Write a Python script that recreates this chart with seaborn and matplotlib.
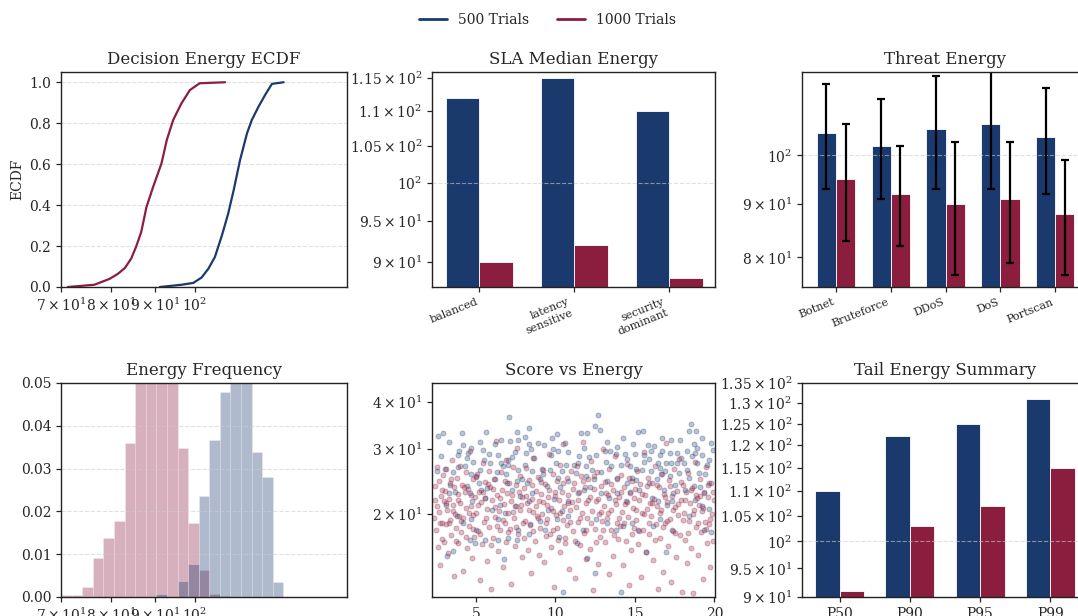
import numpy as np
import pandas as pd
import seaborn as sns
import matplotlib.pyplot as plt
from matplotlib.lines import Line2D

# colours
navy = '#1a3a6e'
crimson = '#8b1e3f'
groups = ['500 Trials', '1000 Trials']

# ECDF curves (energy value, cumulative share)
ecdf_500_x = [91.1, 96.5, 99.6, 101.8, 103.7, 105.5, 107.5, 109.3, 110.9, 112.8,
              114.9, 116.4, 118.5, 120.6, 122.8, 126.7]
ecdf_500_p = [0.0, 0.011, 0.02, 0.046, 0.09, 0.147, 0.253, 0.359, 0.473, 0.62,
              0.75, 0.816, 0.881, 0.938, 0.992, 1.0]
ecdf_1000_x = [71.3, 76.5, 79.7, 81.5, 83.0, 84.4, 85.5, 86.7, 87.9, 89.5, 91.5,
               92.8, 94.4, 96.5, 98.7, 101.3, 108.4]
ecdf_1000_p = [0.0, 0.011, 0.04, 0.065, 0.093, 0.139, 0.196, 0.27, 0.39, 0.49,
               0.604, 0.718, 0.816, 0.897, 0.962, 0.995, 1.0]

# histogram densities, 27 log-spaced bins between 70 and 150
hist_500 = [0, 0, 0, 0, 0, 0, 0, 0, 0, 0.0008, 0, 0.0037, 0.0078, 0.0236, 0.0366,
            0.048, 0.060, 0.062, 0.0338, 0.0281, 0.0034, 0, 0, 0, 0, 0, 0]
hist_1000 = [0.0004, 0.0004, 0.0023, 0.0091, 0.0138, 0.0178, 0.0359, 0.058, 0.068,
             0.070, 0.056, 0.0348, 0.0174, 0.0063, 0.0007, 0.0002, 0, 0, 0, 0, 0,
             0, 0, 0, 0, 0, 0]

# SLA medians
sla_names = ['balanced', 'latency\nsensitive', 'security\ndominant']
sla_500 = [112, 115, 110]
sla_1000 = [90, 92, 88]

# threat energy with spread
threat_names = ['Botnet', 'Bruteforce', 'DDoS', 'DoS', 'Portscan']
threat_500 = [105, 102, 106, 107, 104]
threat_500_err = [12, 11, 13, 14, 12]
threat_1000 = [95, 92, 90, 91, 88]
threat_1000_err = [12, 10, 13, 12, 11]

# tail percentiles
tail_names = ['P50', 'P90', 'P95', 'P99']
tail_500 = [110, 122, 125, 131]
tail_1000 = [91, 103, 107, 115]

# score vs energy points (x, y)
score_500 = [
    (7.09, 36.4), (2.62, 32.5), (2.93, 33.1), (3.33, 31.2), (5.61, 33.2), (6.21, 30.9),
    (6.59, 31.7), (7.14, 31.4), (7.57, 33.3), (8.33, 34.1), (7.68, 31.7), (8.89, 31.1),
    (9.77, 32.0), (10.09, 32.9), (9.31, 30.6), (4.19, 30.6), (4.67, 30.1), (5.27, 31.2),
    (3.91, 29.5), (3.87, 28.9), (4.44, 28.3), (4.83, 27.7), (5.52, 28.0), (5.42, 29.8),
    (6.42, 28.9), (6.59, 27.4), (7.05, 27.9), (7.47, 29.4), (8.31, 30.8), (8.14, 29.2),
    (8.45, 29.9), (9.88, 30.0), (10.19, 29.5), (10.02, 27.5), (10.82, 29.3), (10.67, 27.2),
    (2.57, 26.1), (3.04, 26.5), (3.56, 25.9), (4.29, 27.0), (4.71, 25.7), (5.23, 26.3),
    (5.90, 27.5), (6.70, 27.0), (7.05, 27.2), (7.68, 26.3), (8.10, 27.2), (8.52, 26.1),
    (9.14, 26.5), (9.67, 26.3), (10.40, 26.1), (10.78, 24.5), (4.60, 22.8), (4.46, 23.8),
    (5.17, 24.3), (5.69, 23.5), (6.21, 24.8), (6.95, 24.3), (7.26, 23.3), (7.60, 24.5),
    (8.20, 24.3), (8.52, 22.8), (9.04, 24.8), (9.46, 23.8), (10.19, 25.0), (3.29, 22.8),
    (3.70, 23.0), (5.59, 22.1), (4.75, 21.7), (6.53, 21.2), (7.47, 21.0), (8.31, 21.7),
    (9.56, 20.6), (10.40, 20.4), (10.82, 21.7), (4.71, 19.4), (3.83, 19.8), (4.16, 19.0),
    (6.01, 20.6), (6.42, 19.4), (6.84, 20.2), (8.41, 18.8), (9.04, 19.2), (9.35, 18.2),
    (10.09, 19.4), (10.23, 17.4), (10.82, 19.8), (5.00, 18.2), (3.54, 15.9), (3.18, 15.5),
    (4.62, 17.1), (7.05, 17.3), (6.42, 17.1), (6.78, 15.2), (7.57, 17.1), (8.31, 17.7),
    (10.50, 12.4), (5.55, 17.1), (4.96, 16.8), (7.68, 18.2),
    (12.68, 37.0), (12.47, 34.5), (12.79, 33.6), (11.63, 33.1), (11.99, 33.1), (13.25, 31.2),
    (14.27, 32.0), (15.19, 33.2), (15.53, 33.4), (16.72, 32.0), (17.28, 31.6), (18.52, 35.0),
    (18.39, 33.5), (18.85, 33.5), (19.23, 32.0), (19.79, 31.1), (17.85, 31.6), (18.69, 30.8),
    (18.92, 30.1), (15.80, 30.7), (16.20, 30.5), (16.72, 29.5), (17.18, 29.2), (17.62, 29.2),
    (18.29, 29.5), (19.23, 28.9), (19.65, 28.0), (11.51, 28.6), (12.14, 28.5), (12.53, 28.9),
    (13.12, 29.5), (13.43, 29.6), (13.79, 29.0), (14.35, 29.0), (15.00, 29.1), (15.57, 28.9),
    (15.86, 28.1), (16.47, 27.5), (16.55, 26.6), (16.93, 27.5), (17.28, 27.5), (17.66, 27.4),
    (18.06, 27.5), (18.60, 28.6), (18.92, 27.5), (19.52, 27.2), (11.17, 27.2), (11.45, 27.5),
    (11.91, 26.9), (13.16, 27.7), (14.10, 27.2), (14.67, 27.0), (15.04, 26.4), (15.46, 26.3),
    (15.99, 26.1), (16.66, 25.6), (17.20, 25.3), (17.76, 25.8), (18.43, 25.0), (19.02, 25.8),
    (19.65, 24.3), (11.91, 25.3), (12.43, 24.8), (13.22, 24.5), (13.85, 25.0), (14.48, 24.3),
    (14.84, 25.0), (15.23, 23.3), (15.88, 24.3), (16.84, 23.3), (17.41, 22.8), (18.16, 23.3),
    (18.71, 23.8), (19.33, 22.8), (11.45, 22.8), (11.82, 23.3), (12.87, 22.8), (13.39, 22.1),
    (13.89, 22.8), (14.42, 21.7), (16.09, 22.1), (16.47, 21.7), (17.35, 21.7), (18.81, 21.9),
    (19.23, 21.0), (19.69, 20.7), (18.43, 19.8), (11.74, 18.2), (11.38, 16.7), (12.53, 19.4),
    (13.27, 19.0), (13.79, 18.2), (14.25, 18.6), (14.84, 19.0), (15.17, 18.2), (16.17, 18.6),
    (16.55, 19.4), (17.35, 18.2), (12.01, 15.3), (12.49, 13.9), (14.10, 12.4), (15.67, 15.8),
    (16.93, 15.8), (19.33, 18.2), (19.81, 17.9),
    (2.8, 28.6), (3.4, 24.0), (3.9, 26.8), (4.5, 29.2), (5.0, 25.3), (5.8, 29.0),
    (6.3, 26.0), (6.9, 25.6), (7.3, 28.5), (7.9, 24.8), (8.6, 28.3), (9.2, 25.6),
    (9.7, 28.9), (10.3, 23.6), (10.6, 31.0), (11.3, 25.8), (11.8, 30.2), (12.3, 26.3),
    (12.9, 26.0), (13.5, 27.0), (13.9, 30.4), (14.5, 28.1), (15.1, 24.7), (15.6, 27.6),
    (16.0, 29.6), (16.4, 24.8), (16.9, 26.2), (17.5, 24.0), (17.9, 28.3), (18.3, 26.3),
    (18.8, 29.2), (19.4, 25.6), (19.9, 29.8), (3.1, 21.2), (5.3, 23.2), (7.8, 22.4),
    (9.9, 22.0), (12.2, 23.7), (14.7, 23.0), (17.0, 21.2), (19.1, 23.6), (4.1, 33.0),
    (8.1, 32.3), (14.9, 30.9), (16.6, 28.8),
]
score_1000 = [
    (2.35, 19.6), (2.4, 23.8), (2.5, 18.2), (2.55, 21.0), (2.6, 16.3), (2.65, 24.6),
    (2.7, 20.3), (2.75, 14.6), (2.8, 22.4), (2.85, 19.0), (2.9, 17.2), (2.95, 25.5),
    (2.98, 21.7), (3.05, 23.1), (3.1, 18.8), (3.15, 26.4), (3.2, 20.6), (3.25, 15.7),
    (3.3, 22.0), (3.35, 24.2), (3.4, 19.3), (3.45, 17.6), (3.5, 28.0), (3.55, 21.2),
    (3.6, 13.7), (3.65, 23.6), (3.7, 20.0), (3.75, 18.4), (3.8, 25.1), (3.85, 16.8),
    (3.9, 22.7), (3.95, 19.8), (3.98, 27.0), (4.02, 21.5), (4.08, 17.9), (4.12, 24.0),
    (4.18, 19.5), (4.22, 14.1), (4.3, 22.9), (4.35, 26.0), (4.4, 20.8), (4.45, 16.2),
    (4.52, 23.4), (4.58, 18.6), (4.63, 29.5), (4.7, 21.1), (4.75, 15.3), (4.8, 24.8),
    (4.85, 19.9), (4.9, 17.4), (4.95, 22.3), (5.02, 20.2), (5.08, 25.7), (5.15, 18.0),
    (5.2, 23.0), (5.25, 13.3), (5.3, 21.6), (5.38, 16.6), (5.42, 27.4), (5.5, 19.1),
    (5.55, 24.4), (5.6, 22.1), (5.68, 15.0), (5.72, 20.7), (5.8, 18.5), (5.85, 26.2),
    (5.9, 23.7), (5.95, 12.6), (6.02, 21.9), (6.08, 17.3), (6.15, 24.9), (6.2, 19.7),
    (6.25, 31.5), (6.32, 22.6), (6.38, 15.9), (6.45, 20.4), (6.5, 18.1), (6.55, 25.9),
    (6.62, 23.2), (6.7, 14.4), (6.75, 21.3), (6.82, 19.0), (6.88, 27.9), (6.92, 16.9),
    (6.97, 22.8), (7.03, 20.1), (7.1, 24.3), (7.15, 18.3), (7.2, 13.0), (7.25, 22.5),
    (7.32, 26.8), (7.38, 19.6), (7.45, 16.4), (7.5, 23.9), (7.55, 21.0), (7.6, 30.2),
    (7.68, 17.7), (7.75, 25.4), (7.8, 20.6), (7.88, 15.4), (7.92, 22.2), (7.97, 18.9),
    (8.03, 23.5), (8.1, 19.2), (8.15, 26.6), (8.22, 21.4), (8.28, 16.0), (8.35, 24.7),
    (8.4, 18.7), (8.48, 13.9), (8.52, 22.0), (8.58, 20.3), (8.65, 28.4), (8.7, 17.0),
    (8.78, 23.1), (8.82, 19.8), (8.9, 25.2), (8.95, 15.6), (8.98, 21.7), (9.03, 18.4),
    (9.1, 22.7), (9.15, 20.0), (9.22, 26.3), (9.28, 14.9), (9.32, 24.1), (9.4, 17.5),
    (9.45, 21.2), (9.5, 19.4), (9.58, 29.0), (9.62, 23.3), (9.7, 16.3), (9.75, 20.8),
    (9.82, 25.6), (9.88, 18.1), (9.92, 12.8), (9.97, 22.4), (10.03, 19.9), (10.08, 24.5),
    (10.15, 17.1), (10.2, 21.8), (10.27, 27.2), (10.32, 15.8), (10.4, 23.0), (10.45, 19.3),
    (10.5, 30.8), (10.57, 21.1), (10.62, 16.7), (10.7, 25.0), (10.75, 18.7), (10.82, 22.6),
    (10.88, 14.3), (10.92, 20.5), (10.97, 26.1), (11.03, 21.6), (11.1, 18.0), (11.15, 24.2),
    (11.22, 13.5), (11.28, 20.9), (11.35, 26.9), (11.4, 19.1), (11.48, 22.9), (11.52, 16.5),
    (11.6, 25.3), (11.65, 20.2), (11.72, 31.2), (11.78, 17.8), (11.85, 23.6), (11.9, 15.2),
    (11.95, 21.4), (12.02, 19.6), (12.08, 24.8), (12.15, 22.3), (12.2, 16.1), (12.27, 27.8),
    (12.33, 20.4), (12.38, 12.5), (12.45, 23.4), (12.5, 18.3), (12.57, 21.7), (12.62, 25.9),
    (12.7, 14.7), (12.75, 20.0), (12.82, 17.4), (12.88, 23.8), (12.92, 19.2), (12.97, 29.9),
    (13.03, 21.0), (13.1, 16.9), (13.15, 24.4), (13.22, 19.5), (13.28, 22.6), (13.35, 13.8),
    (13.4, 26.4), (13.47, 20.6), (13.52, 18.1), (13.6, 23.2), (13.65, 15.5), (13.72, 21.9),
    (13.78, 28.7), (13.85, 19.0), (13.9, 24.9), (13.95, 17.2), (14.02, 22.2), (14.08, 18.6),
    (14.15, 25.5), (14.2, 20.3), (14.27, 14.6), (14.33, 23.7), (14.4, 21.3), (14.45, 17.0),
    (14.52, 27.3), (14.58, 19.7), (14.65, 12.9), (14.7, 22.8), (14.77, 16.0), (14.83, 24.6),
    (14.88, 20.8), (14.95, 18.4), (15.02, 23.4), (15.08, 19.3), (15.15, 26.2), (15.2, 16.6),
    (15.28, 21.8), (15.33, 24.1), (15.4, 13.6), (15.47, 20.1), (15.52, 18.2), (15.6, 29.3),
    (15.65, 22.5), (15.72, 15.8), (15.78, 20.7), (15.85, 25.0), (15.9, 17.7), (15.96, 21.5),
    (16.02, 19.8), (16.1, 24.3), (16.15, 15.1), (16.22, 22.0), (16.28, 27.0), (16.35, 18.8),
    (16.4, 21.1), (16.47, 12.6), (16.52, 23.6), (16.6, 17.3), (16.65, 20.5), (16.72, 25.7),
    (16.78, 14.0), (16.85, 22.7), (16.9, 19.0), (16.96, 31.0), (17.02, 21.6), (17.08, 16.4),
    (17.15, 24.7), (17.2, 19.4), (17.28, 13.2), (17.33, 22.4), (17.4, 18.0), (17.47, 26.5),
    (17.52, 20.9), (17.6, 15.4), (17.65, 23.1), (17.72, 19.9), (17.78, 28.2), (17.85, 17.6),
    (17.9, 21.9), (17.96, 12.4), (18.02, 24.0), (18.08, 20.2), (18.15, 17.1), (18.22, 22.9),
    (18.28, 14.8), (18.35, 25.8), (18.4, 19.2), (18.47, 21.4), (18.52, 16.2), (18.6, 23.5),
    (18.65, 12.3), (18.72, 20.6), (18.78, 27.6), (18.85, 18.5), (18.9, 22.1), (18.96, 15.6),
    (19.02, 21.2), (19.08, 24.9), (19.15, 17.9), (19.22, 20.4), (19.28, 13.4), (19.33, 23.0),
    (19.4, 19.1), (19.47, 26.8), (19.52, 16.7), (19.6, 22.3), (19.65, 18.8), (19.72, 14.4),
    (19.78, 24.2), (19.85, 20.0), (19.9, 17.0), (19.95, 21.8),
    (2.45, 21.9), (2.58, 26.8), (2.72, 18.9), (2.88, 23.2), (3.02, 16.9), (3.12, 21.5),
    (3.28, 19.0), (3.42, 24.9), (3.58, 20.4), (3.72, 17.0), (3.88, 21.8), (4.05, 19.2),
    (4.25, 23.7), (4.38, 17.4), (4.55, 20.1), (4.68, 22.6), (4.82, 18.3), (4.98, 25.2),
    (5.12, 21.2), (5.28, 17.7), (5.45, 22.9), (5.62, 19.6), (5.78, 24.1), (5.92, 16.5),
    (6.05, 23.4), (6.22, 20.9), (6.35, 18.6), (6.52, 22.1), (6.68, 19.3), (6.85, 24.6),
    (7.0, 17.9), (7.18, 21.7), (7.35, 20.3), (7.52, 18.5), (7.7, 23.0), (7.85, 21.2),
    (8.0, 17.3), (8.18, 22.4), (8.32, 20.6), (8.5, 24.0), (8.62, 18.0), (8.8, 21.0),
    (8.92, 19.5), (9.08, 24.4), (9.25, 21.6), (9.38, 19.0), (9.55, 22.2), (9.68, 17.7),
    (9.85, 20.4), (10.0, 22.9), (10.12, 18.4), (10.3, 20.2), (10.48, 24.2), (10.6, 17.3),
    (10.78, 21.5), (10.95, 19.1), (11.08, 23.4), (11.25, 17.0), (11.42, 21.9), (11.58, 19.5),
    (11.75, 24.5), (11.92, 18.2), (12.05, 21.8), (12.22, 19.0), (12.4, 25.4), (12.55, 16.9),
    (12.68, 22.0), (12.85, 20.3), (13.0, 18.2), (13.18, 22.8), (13.32, 20.2), (13.5, 24.1),
    (13.68, 17.6), (13.82, 21.3), (13.98, 19.6), (14.12, 23.0), (14.3, 19.0), (14.48, 21.6),
    (14.62, 25.0), (14.8, 17.7), (14.92, 22.1), (15.1, 20.6), (15.25, 18.0), (15.42, 22.7),
    (15.58, 20.0), (15.75, 23.8), (15.92, 18.9), (16.08, 21.4), (16.25, 17.1), (16.42, 23.9),
    (16.58, 20.1), (16.75, 18.5), (16.92, 22.3), (17.05, 19.2), (17.22, 23.8), (17.38, 20.6),
    (17.55, 17.8), (17.7, 21.3), (17.88, 24.4), (18.05, 19.3), (18.18, 21.8), (18.32, 17.8),
    (18.5, 23.2), (18.68, 20.0), (18.82, 22.6), (18.98, 18.9), (19.12, 22.4), (19.3, 20.8),
    (19.45, 18.3), (19.58, 24.0), (19.75, 19.4), (19.92, 22.9),
]

# style
sns.set_theme(style='ticks')
plt.rcParams['font.family'] = ['DejaVu Serif']
plt.rcParams.update({
    'mathtext.fontset': 'dejavuserif',
    'axes.titlesize': 12,
    'axes.labelsize': 10,
    'xtick.labelsize': 10,
    'ytick.labelsize': 10,
    'axes.linewidth': 1.0,
    'axes.edgecolor': '#222222',
    'xtick.major.size': 3.5,
    'ytick.major.size': 3.5,
    'xtick.minor.size': 3.5,
    'ytick.minor.size': 3.5,
    'xtick.major.width': 0.9,
    'ytick.major.width': 0.9,
    'xtick.minor.width': 0.9,
    'ytick.minor.width': 0.9,
})

fig = plt.figure(figsize=(10.78, 6.16), dpi=100)
W, H = 1078, 616
lefts = [61, 432, 802]
widths = [286, 283, 286]
tops = [72, 383]
heights = [215, 214]


def make_ax(row, col):
    return fig.add_axes([lefts[col] / W, 1 - (tops[row] + heights[row]) / H,
                         widths[col] / W, heights[row] / H])


def ygrid(ax):
    ax.grid(True, axis='y', which='major', linestyle='--', linewidth=0.8,
            color='#cccccc', alpha=0.6)
    ax.set_axisbelow('line')


def long_df(names, a, b):
    return pd.DataFrame({
        'name': list(names) * 2,
        'value': list(a) + list(b),
        'group': [groups[0]] * len(names) + [groups[1]] * len(names),
    })


pal = {groups[0]: navy, groups[1]: crimson}

# 1. ECDF
ax = make_ax(0, 0)
sns.lineplot(x=ecdf_500_x, y=ecdf_500_p, color=navy, lw=1.6, ax=ax, sort=False, estimator=None)
sns.lineplot(x=ecdf_1000_x, y=ecdf_1000_p, color=crimson, lw=1.6, ax=ax, sort=False, estimator=None)
ax.set_xscale('log')
ax.set_xlim(70, 150)
ax.set_ylim(0, 1.05)
ax.set_ylabel('ECDF')
ax.set_title('Decision Energy ECDF')
ygrid(ax)

# 2. SLA median energy
ax = make_ax(0, 1)
sns.barplot(data=long_df(sla_names, sla_500, sla_1000), x='name', y='value', hue='group',
            hue_order=groups, palette=pal, width=0.7, saturation=1, errorbar=None,
            edgecolor='white', linewidth=0.6, legend=False, ax=ax)
ax.set_yscale('log')
ax.set_ylim(87, 115.9)
ax.set_xlim(-0.5, 2.48)
ax.set_xlabel('')
ax.set_ylabel('')
ax.set_title('SLA Median Energy')
plt.setp(ax.get_xticklabels(), rotation=22, ha='right', fontsize=8)
ygrid(ax)

# 3. Threat energy
ax = make_ax(0, 2)
sns.barplot(data=long_df(threat_names, threat_500, threat_1000), x='name', y='value',
            hue='group', hue_order=groups, palette=pal, width=0.7, saturation=1,
            errorbar=None, edgecolor='white', linewidth=0.6, legend=False, ax=ax)
errs = threat_500_err + threat_1000_err
for bar, e in zip(ax.patches, errs):
    ax.errorbar(bar.get_x() + bar.get_width() / 2, bar.get_height(), yerr=e,
                color='black', lw=1.6, capsize=3, capthick=1.6)
ax.set_yscale('log')
ax.set_ylim(75, 120)
ax.set_xlim(-0.62, 4.6)
ax.set_xlabel('')
ax.set_ylabel('')
ax.set_title('Threat Energy')
plt.setp(ax.get_xticklabels(), rotation=22, ha='right', fontsize=8)
ygrid(ax)

# 4. Energy frequency
ax = make_ax(1, 0)
edges = np.geomspace(70, 150, len(hist_500) + 1)
mids = np.sqrt(edges[:-1] * edges[1:])
ax.hist(mids, bins=edges, weights=hist_1000, color=crimson, alpha=0.35,
        edgecolor='white', linewidth=0.5)
ax.hist(mids, bins=edges, weights=hist_500, color=navy, alpha=0.35,
        edgecolor='white', linewidth=0.5)
ax.set_xscale('log')
ax.set_xlim(70, 150)
ax.set_ylim(0, 0.05)
ax.set_title('Energy Frequency')
ygrid(ax)

# 5. Score vs energy
ax = make_ax(1, 1)
s500 = np.array(score_500)
s1000 = np.array(score_1000)
sns.scatterplot(x=s500[:, 0], y=s500[:, 1], color=navy, s=13, alpha=0.3,
                edgecolor='face', linewidth=0.7, ax=ax)
sns.scatterplot(x=s1000[:, 0], y=s1000[:, 1], color=crimson, s=13, alpha=0.3,
                edgecolor='face', linewidth=0.7, ax=ax)
ax.set_yscale('log')
ax.set_xlim(2.24, 20.04)
ax.set_ylim(12, 45)
ax.set_title('Score vs Energy')

# 6. Tail energy summary
ax = make_ax(1, 2)
sns.barplot(data=long_df(tail_names, tail_500, tail_1000), x='name', y='value', hue='group',
            hue_order=groups, palette=pal, width=0.7, saturation=1, errorbar=None,
            edgecolor='white', linewidth=0.6, legend=False, ax=ax)
ax.set_yscale('log')
ax.set_ylim(90, 135)
ax.set_xlim(-0.535, 3.535)
ax.set_xlabel('')
ax.set_ylabel('')
ax.set_title('Tail Energy Summary')
ygrid(ax)

handles = [Line2D([], [], color=navy, lw=2, label=groups[0]),
           Line2D([], [], color=crimson, lw=2, label=groups[1])]
fig.legend(handles=handles, loc='upper center', ncol=2, frameon=False,
           bbox_to_anchor=(0.508, 1.0), fontsize=10)

fig.savefig('out.png', dpi=100)
